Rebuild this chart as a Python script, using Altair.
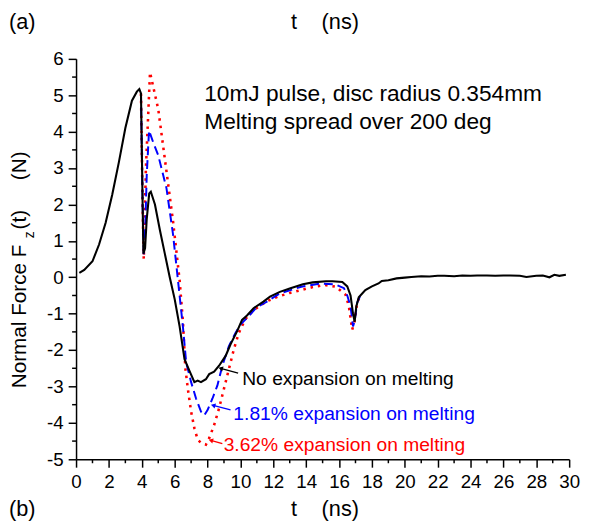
import altair as alt
import pandas as pd

FONT = "Liberation Sans"

# ---- data ----
t_none = [0.2, 0.5, 1.0, 1.4, 1.8, 2.2, 2.6, 3.0, 3.4, 3.7, 3.85, 3.95, 4.05, 4.1, 4.2, 4.3,
          4.45, 4.55, 4.8, 5.1, 5.4, 5.7, 6.0, 6.3, 6.6, 6.9, 7.2, 7.4, 7.6, 7.9, 8.1, 8.4,
          8.7, 9.1, 9.4, 9.8, 10.1, 10.4, 10.8, 11.4, 11.8, 12.4, 13.0, 13.8, 14.4, 15.2,
          15.6, 16.2, 16.5, 16.7, 16.85, 16.95, 17.05, 17.2, 17.6, 18.0, 18.4, 18.6, 19.0,
          19.5, 20.0, 20.4, 21.0, 21.5, 22.0, 22.4, 23.0, 23.5, 24.0, 24.4, 25.0, 25.5,
          26.0, 26.4, 27.0, 27.4, 28.0, 28.4, 28.8, 29.1, 29.4, 29.8]
f_none = [0.12, 0.2, 0.44, 0.9, 1.5, 2.27, 3.15, 4.1, 4.85, 5.1, 5.17, 5.05, 2.0, 0.65, 0.8, 1.6,
          2.3, 2.35, 2.0, 1.3, 0.65, 0.0, -0.6, -1.35, -2.25, -2.57, -2.88, -2.84, -2.88, -2.8,
          -2.66, -2.59, -2.43, -2.16, -1.84, -1.48, -1.17, -1.05, -0.85, -0.67, -0.53, -0.4,
          -0.31, -0.19, -0.14, -0.11, -0.11, -0.13, -0.25, -0.5, -1.0, -1.22, -0.8, -0.55,
          -0.35, -0.25, -0.17, -0.1, -0.08, -0.03, -0.01, 0.01, 0.03, 0.02, 0.04, 0.04, 0.03,
          0.05, 0.04, 0.05, 0.05, 0.04, 0.05, 0.05, 0.04, 0.01, 0.04, 0.05, 0.0, 0.07, 0.04, 0.07]

t_181 = [3.95, 4.05, 4.12, 4.2, 4.3, 4.44, 4.7, 5.0, 5.5, 5.9, 6.2, 6.5, 6.7, 7.0, 7.3, 7.6,
         7.8, 8.0, 8.3, 8.6, 8.9, 9.3, 9.7, 10.0, 10.5, 11.0, 11.5, 12.4, 13.0, 13.7, 14.9,
         15.8, 16.3, 16.5, 16.7, 16.85, 16.95, 17.1, 17.3]
f_181 = [5.05, 2.0, 0.6, 1.2, 2.8, 4.03, 3.7, 3.35, 2.45, 1.18, -0.08, -1.35, -2.34, -2.88,
         -3.33, -3.69, -3.79, -3.65, -3.33, -2.97, -2.43, -1.89, -1.53, -1.3, -1.07, -0.82,
         -0.7, -0.44, -0.36, -0.26, -0.17, -0.2, -0.3, -0.5, -0.8, -1.35, -1.2, -0.7, -0.5]

t_362 = [3.95, 4.05, 4.12, 4.25, 4.5, 5.0, 5.4, 5.9, 6.3, 6.5, 6.65, 6.8, 7.0, 7.2, 7.4, 7.6,
         7.9, 8.1, 8.4, 8.7, 9.0, 9.3, 9.6, 9.9, 10.3, 10.8, 11.6, 12.3, 13.0, 13.7, 14.4,
         15.1, 15.8, 16.4, 16.6, 16.8, 16.95, 17.1, 17.3]
f_362 = [5.05, 2.0, 0.5, 3.0, 5.63, 4.62, 3.26, 1.54, -0.08, -1.2, -2.5, -3.06, -3.69, -4.15,
         -4.46, -4.55, -4.6, -4.42, -4.06, -3.6, -3.06, -2.52, -1.98, -1.53, -1.15, -0.9,
         -0.66, -0.53, -0.43, -0.35, -0.27, -0.21, -0.26, -0.48, -0.8, -1.44, -1.2, -0.7, -0.5]

x_ticks = list(range(0, 31, 2))
x_minor = list(range(1, 30, 2))
y_ticks = list(range(-5, 7))
y_minor = [v + 0.5 for v in range(-5, 6)]

ann_labels = ["No expansion on melting", "1.81% expansion on melting", "3.62% expansion on melting"]
ann_colors = ["#000000", "#0000FF", "#FF0000"]
ann_text_t = [10.11, 9.57, 8.98]
ann_text_f = [-2.97, -3.915, -4.77]
arr_t0 = [9.86, 9.40, 8.90]
arr_f0 = [-2.63, -3.64, -4.57]
arr_t1 = [8.80, 8.34, 8.20]
arr_f1 = [-2.50, -3.52, -4.48]

info_lines = ["10mJ pulse, disc radius 0.354mm", "Melting spread over 200 deg"]
info_t = [7.80, 7.80]
info_f = [4.847, 4.077]

# ---- chart ----
xs = alt.Scale(domain=[0, 30], nice=False, zero=False)
ys = alt.Scale(domain=[-5, 6], nice=False, zero=False)
x_axis = alt.Axis(values=x_ticks, labelExpr="toString(datum.value)", title="",
                  labelOverlap=False, labelFlush=False, labelPadding=6)
y_axis = alt.Axis(values=y_ticks, labelExpr="toString(datum.value)", title="",
                  labelOverlap=False, labelFlush=False, labelPadding=5)

def X(field):
    return alt.X(field, scale=xs, axis=x_axis, title="")

def Y(field):
    return alt.Y(field, scale=ys, axis=y_axis, title="")

def curve(t, f, color, dash=None, width=2.0):
    df = pd.DataFrame({"t": t, "F": f})
    kw = dict(color=color, strokeWidth=width, clip=False)
    if dash is not None:
        kw["strokeDash"] = dash
    return alt.Chart(df).mark_line(**kw).encode(x=X("t:Q"), y=Y("F:Q"))

red = curve(t_362, f_362, "#FF0000", dash=[2.5, 5], width=2.6)
blue = curve(t_181, f_181, "#0000FF", dash=[9, 5], width=2.0)
black = curve(t_none, f_none, "#000000", width=2.1)

xminor = alt.Chart(pd.DataFrame({"v": x_minor})).mark_rule(color="black", strokeWidth=1.5).encode(
    x=X("v:Q"), y=alt.value(406), y2=alt.value(410))
yminor = alt.Chart(pd.DataFrame({"v": y_minor})).mark_rule(color="black", strokeWidth=1.5).encode(
    y=Y("v:Q"), x=alt.value(-4), x2=alt.value(0))

ann = pd.DataFrame({"label": ann_labels, "color": ann_colors, "t": ann_text_t, "F": ann_text_f,
                    "t0": arr_t0, "f0": arr_f0, "t1": arr_t1, "f1": arr_f1})
cscale = alt.Scale(domain=ann_colors, range=ann_colors)
ann_text = alt.Chart(ann).mark_text(align="left", baseline="alphabetic", font=FONT, fontSize=19.5).encode(
    x=X("t:Q"), y=Y("F:Q"), text="label:N",
    color=alt.Color("color:N", scale=cscale, legend=None))
ann_line = alt.Chart(ann).mark_rule(strokeWidth=1.3).encode(
    x=X("t0:Q"), y=Y("f0:Q"), x2="t1:Q", y2="f1:Q",
    color=alt.Color("color:N", scale=cscale, legend=None))
ann_head = alt.Chart(ann).mark_point(shape="triangle-left", filled=True, size=28, angle=16, opacity=1).encode(
    x=X("t1:Q"), y=Y("f1:Q"),
    color=alt.Color("color:N", scale=cscale, legend=None))

info = alt.Chart(pd.DataFrame({"label": info_lines, "t": info_t, "F": info_f})).mark_text(
    align="left", baseline="alphabetic", font=FONT, fontSize=23, color="black").encode(
    x=X("t:Q"), y=Y("F:Q"), text="label:N")

def label(txt, x, y, size, angle=0, align="left"):
    return alt.Chart(pd.DataFrame({"a": [0]})).mark_text(
        text=txt, align=align, baseline="middle", font=FONT, fontSize=size, color="black",
        angle=angle).encode(x=alt.value(x), y=alt.value(y))

headers = [
    label("(a)", -68, -37, 22),
    label("t", 218, -37, 22),
    label("(ns)", 249, -37, 22),
    label("(b)", -68, 456, 22),
    label("t", 218, 456, 22),
    label("(ns)", 249, 456, 22),
    label("Normal Force F", -57, 334, 21, angle=270),
    label("z", -47, 182, 14, angle=270),
    label("(t)", -57, 173, 21, angle=270),
    label("(N)", -57, 123, 21, angle=270),
]

chart = alt.layer(red, blue, black, xminor, yminor, ann_line, ann_head, ann_text, info, *headers).properties(
    width=500, height=406,
    padding={"left": 69, "top": 48, "right": 12, "bottom": 60},
    autosize=alt.AutoSizeParams(type="none"),
).configure_view(stroke=None).configure_axis(
    grid=False, domainColor="black", domainWidth=1.5, tickColor="black", tickWidth=1.5,
    tickSize=8, labelFont=FONT, labelFontSize=19, labelColor="black",
    labelOverlap=False, labelFlush=False,
)

chart.save("out.html", embed_options={"renderer": "svg", "actions": False})
